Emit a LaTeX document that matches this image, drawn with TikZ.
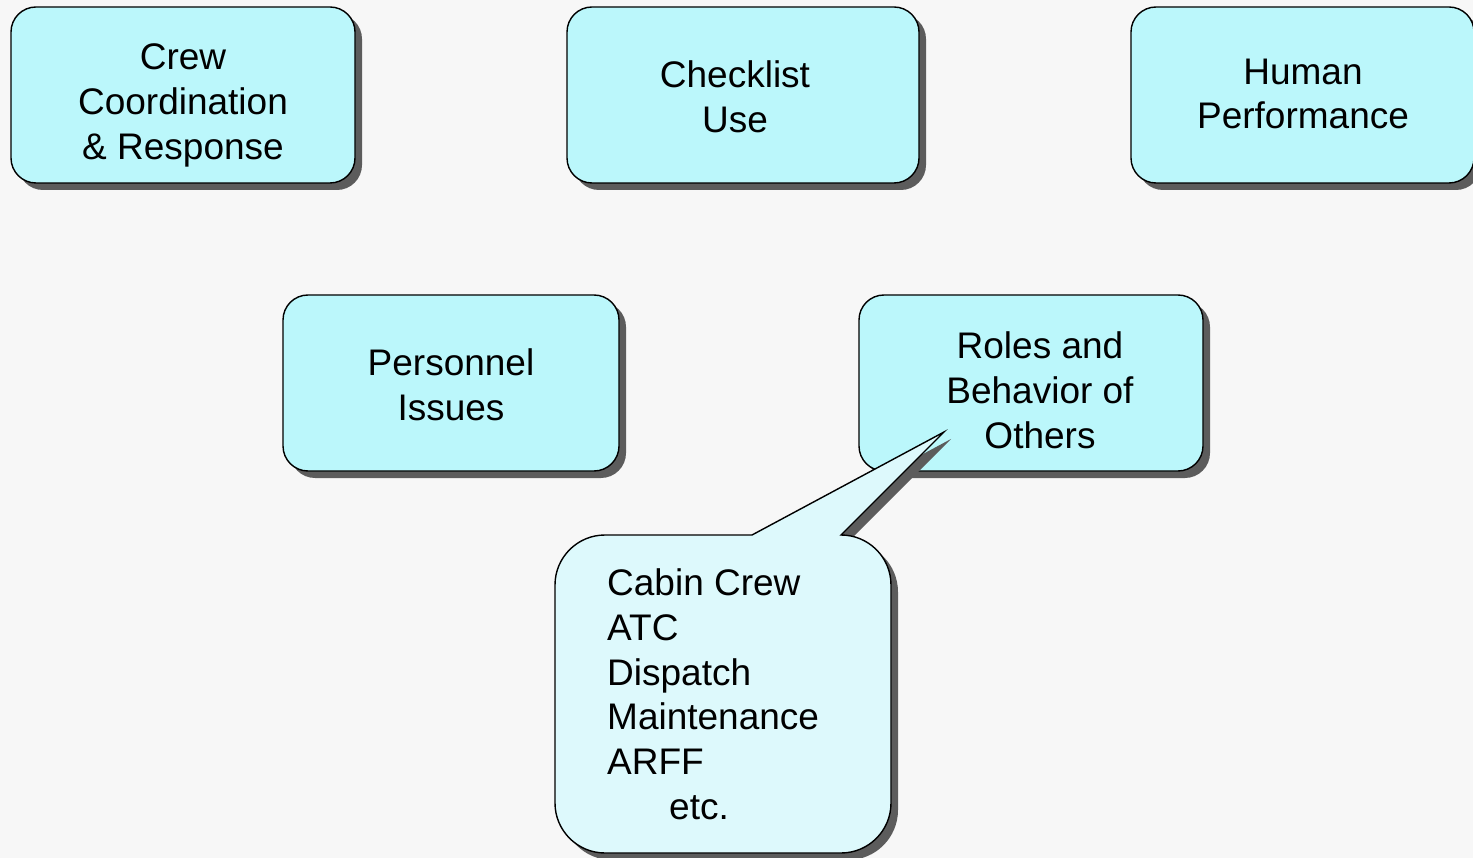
\documentclass[tikz,border=0pt]{standalone}
\usepackage{fontspec}
\setmainfont{Liberation Sans}
\usetikzlibrary{shadows}
\definecolor{bgcol}{HTML}{F7F7F7}
\definecolor{boxfill}{HTML}{BBF7FB}
\definecolor{callfill}{HTML}{DDF9FC}
\definecolor{shcol}{HTML}{5C5C5C}
\begin{document}
\begin{tikzpicture}[x=1pt,y=-1pt,
  boxshape/.style={draw=black, line width=1.4pt, fill=boxfill, rounded corners=25pt,
    inner sep=0pt, drop shadow={shadow xshift=7pt, shadow yshift=-7pt, fill=shcol, opacity=1}},
  lbl/.style={align=center, inner sep=0pt, font=\fontsize{37}{44.8}\selectfont},
  calltext/.style={align=left, inner sep=0pt, anchor=north west, font=\fontsize{37}{44.8}\selectfont}]
\fill[bgcol] (0,0) rectangle (1473,858);
\useasboundingbox (0,0) rectangle (1473,858);
% boxes
\node[boxshape, minimum width=344pt, minimum height=176pt] (crew) at (183,95) {};
\node[boxshape, minimum width=352pt, minimum height=176pt] (check) at (743,95) {};
\node[boxshape, minimum width=343pt, minimum height=176pt] (human) at (1302.5,95) {};
\node[boxshape, minimum width=336pt, minimum height=176pt] (pers) at (451,383) {};
\node[boxshape, minimum width=344pt, minimum height=176pt] (roles) at (1031,383) {};
% labels
\node[lbl] (crewt) at (183,105.5) {Crew\\Coordination\\\& Response};
\node[lbl] (checkt) at (735,96.5) {Checklist\\Use};
\node[lbl] (humant) at (1303,94) {Human\\Performance};
\node[lbl] (perst) at (451,385) {Personnel\\Issues};
\node[lbl] (rolest) at (1040,390) {Roles and\\Behavior of\\Others};
% callout
\def\myCalloutPath{(752,535) -- (944,432) -- (841,535)
  arc[start angle=90, end angle=0, radius=50pt] -- (891,803)
  arc[start angle=0, end angle=-90, radius=50pt] -- (605,853)
  arc[start angle=270, end angle=180, radius=50pt] -- (555,585)
  arc[start angle=180, end angle=90, radius=50pt] -- cycle}
\fill[shcol, shift={(7pt,-7pt)}] \myCalloutPath;
\filldraw[fill=callfill, draw=black, line width=1.4pt, line join=miter] \myCalloutPath;
\node[calltext] (callt) at (607,568.5) {Cabin Crew\\ATC\\Dispatch\\Maintenance\\ARFF\\\hspace*{62pt}etc.};
\end{tikzpicture}
\end{document}
